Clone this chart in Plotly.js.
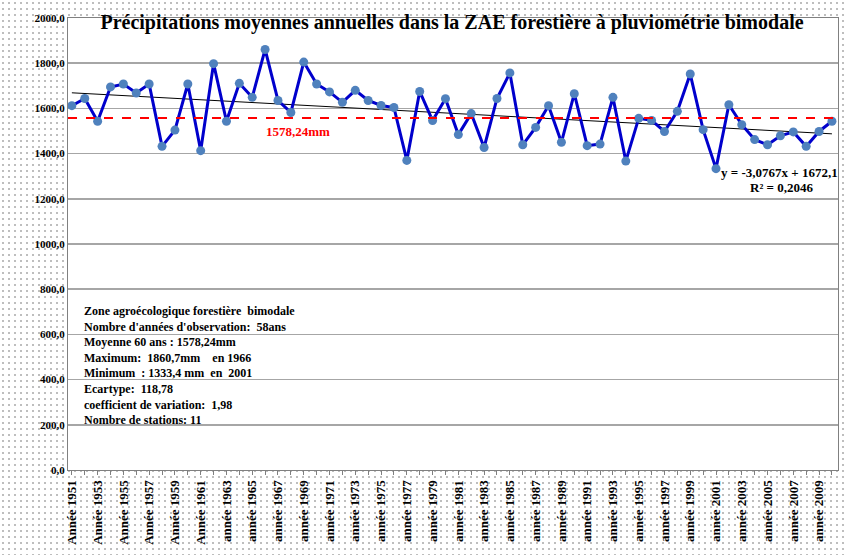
<!DOCTYPE html>
<html>
<head>
<meta charset="utf-8">
<script src="https://cdn.plot.ly/plotly-3.0.1.min.js"></script>
<style>
  html, body { margin: 0; padding: 0; background: #ffffff; }
  #wrap {
    width: 844px; height: 555px;
    background-color: #ffffff;
    background-image: radial-gradient(circle, #9a9a9a 0.6px, rgba(255,255,255,0) 0.9px);
    background-size: 6px 6px;
  }
  #chart { width: 844px; height: 555px; }
</style>
</head>
<body>
<div id="wrap"><div id="chart"></div></div>
<script>
// ---- Data ----
const years = [1951,1952,1953,1954,1955,1956,1957,1958,1959,1960,
               1961,1962,1963,1964,1965,1966,1967,1968,1969,1970,
               1971,1972,1973,1974,1975,1976,1977,1978,1979,1980,
               1981,1982,1983,1984,1985,1986,1987,1988,1989,1990,
               1991,1992,1993,1994,1995,1996,1997,1998,1999,2000,
               2001,2002,2003,2004,2005,2006,2007,2008,2009,2010];
const rainfall = [1612,1644,1543,1695,1708,1668,1708,1432,1504,1708,
                  1413,1798,1543,1711,1649,1860.7,1635,1582,1805,1708,
                  1673,1627,1680,1635,1613,1604,1370,1675,1546,1643,
                  1484,1577,1427,1644,1757,1439,1516,1612,1450,1665,
                  1435,1442,1649,1367,1556,1547,1498,1587,1752,1506,
                  1333.4,1616,1528,1462,1439,1479,1496,1432,1498,1543];
const tickYears = [1951,1953,1955,1957,1959,1961,1963,1965,1967,1969,1971,1973,1975,1977,1979,
                   1981,1983,1985,1987,1989,1991,1993,1995,1997,1999,2001,2003,2005,2007,2009];
const tickLabels = ["Année 1951","Année 1953","Année 1955","Année 1957","Année 1959","Année 1961",
                    "année 1963","année 1965","année 1967","année 1969","année 1971","année 1973",
                    "année 1975","année 1977","année 1979","année 1981","année 1983","année 1985",
                    "année 1987","année 1989","année 1991","année 1993","année 1995","année 1997",
                    "année 1999","année 2001","année 2003","année 2005","année 2007","année 2009"];
const trendSlope = -3.0767;
const trendIntercept = 1672.1;
const meanLineLevel = 1558;   // where the red dashed line is drawn in the reference
const meanLabel = "1578,24mm";
const equationLabel = "y = -3,0767x + 1672,1";
const r2Label = "R² = 0,2046";
const infoLines = [
  "Zone agroécologique forestière  bimodale",
  "Nombre d'années d'observation:  58ans",
  "Moyenne 60 ans : 1578,24mm",
  "Maximum:  1860,7mm    en 1966",
  "Minimum  : 1333,4 mm  en  2001",
  "Ecartype:  118,78",
  "coefficient de variation:  1,98",
  "Nombre de stations: 11"
];
const titleText = "Précipitations moyennes annuelles dans la ZAE forestière à pluviométrie bimodale";

// ---- Traces ----
const trendX = [years[0], years[years.length - 1]];
const trendY = [trendSlope * 1 + trendIntercept, trendSlope * years.length + trendIntercept];

const serif = "'Liberation Serif', 'Times New Roman', serif";

const traces = [
  {
    x: trendX, y: trendY, type: 'scatter', mode: 'lines',
    line: { color: '#000000', width: 1 }, hoverinfo: 'skip', showlegend: false
  },
  {
    x: years, y: rainfall, type: 'scatter', mode: 'lines+markers',
    line: { color: '#0000CC', width: 3 },
    marker: { color: '#4F81BD', size: 9 },
    showlegend: false, cliponaxis: false
  }
];

const annotations = [
  { xref: 'paper', yref: 'paper', x: 0.2987, y: 0.748, xanchor: 'center', yanchor: 'middle',
    text: '<b>' + meanLabel + '</b>',
    showarrow: false, font: { family: serif, size: 13, color: '#FF0000' } },
  { xref: 'paper', yref: 'paper', x: 0.8455, y: 0.659, xanchor: 'left', yanchor: 'middle',
    text: '<b>' + equationLabel + '</b>',
    showarrow: false, font: { family: serif, size: 13, color: '#000000' } },
  { xref: 'paper', yref: 'paper', x: 0.927, y: 0.626, xanchor: 'center', yanchor: 'middle',
    text: '<b>' + r2Label + '</b>',
    showarrow: false, font: { family: serif, size: 13, color: '#000000' } },
  { xref: 'paper', yref: 'paper', x: 0.018, y: 0.372, xanchor: 'left', yanchor: 'top', align: 'left',
    text: infoLines.map(s => '<b>' + s + '</b>').join('<br>'),
    showarrow: false, font: { family: serif, size: 12, color: '#000000' } }
];

const layout = {
  width: 844, height: 555,
  margin: { l: 68, r: 6, t: 18, b: 85 },
  paper_bgcolor: 'rgba(0,0,0,0)',
  plot_bgcolor: '#ffffff',
  separators: ',.',
  title: {
    text: '<b>' + titleText + '</b>',
    font: { family: serif, size: 20, color: '#000000' },
    x: 452 / 844, xanchor: 'center', xref: 'container',
    y: 1 - 22 / 555, yanchor: 'middle', yref: 'container'
  },
  xaxis: {
    range: [1950.7, 2010.47],
    tickvals: tickYears, ticktext: tickLabels,
    tickangle: -90,
    tickfont: { family: serif, size: 13, color: '#000000', weight: 'bold' },
    ticks: 'outside', ticklen: 4, tickcolor: '#808080',
    minor: { dtick: 1, tick0: 1951, ticks: 'outside', ticklen: 4, tickcolor: '#808080', showgrid: false },
    showgrid: false, zeroline: false,
    showline: true, linecolor: '#808080', linewidth: 1, mirror: true
  },
  yaxis: {
    range: [0, 2000], dtick: 200, tick0: 0,
    tickformat: '.1f',
    tickfont: { family: serif, size: 11, color: '#000000', weight: 'bold' },
    showgrid: true, gridcolor: '#a6a6a6', gridwidth: 1.5,
    zeroline: false,
    showline: true, linecolor: '#808080', linewidth: 1, mirror: true,
    ticks: ''
  },
  shapes: [
    { type: 'line', xref: 'paper', x0: 0, x1: 1, yref: 'y', y0: meanLineLevel, y1: meanLineLevel,
      line: { color: '#FF0000', width: 2, dash: 'dash' } }
  ],
  annotations: annotations
};

Plotly.newPlot('chart', traces, layout, { displayModeBar: false, staticPlot: true });
</script>
</body>
</html>
